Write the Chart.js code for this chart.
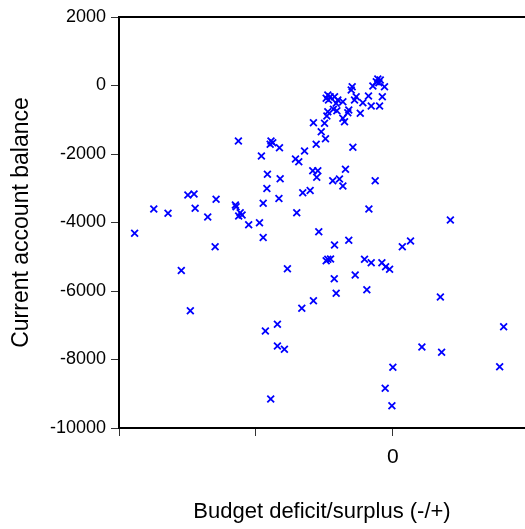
<!DOCTYPE html>
<html>
<head>
<meta charset="utf-8">
<script src="https://cdn.jsdelivr.net/npm/chart.js@4/dist/chart.umd.min.js"></script>
<style>
  html, body { margin: 0; padding: 0; background: #ffffff; overflow: hidden; }
  #wrap { position: relative; width: 525px; height: 529px; }
</style>
</head>
<body>
<div id="wrap"><canvas id="chart" width="525" height="529"></canvas></div>
<script>
// Budget deficit/surplus (x) against current account balance (y)
const budgetBalance = [
  -1886, -1746, -1642, -1545, -1479, -1497, -1452, -1444, -1291, -1352,
  -1298, -1128, -1150, -1145, -1115, -1126, -1101, -1053, -974, -947,
  -947, -960, -890, -877, -896, -828, -916, -823, -920, -832,
  -931, -843, -843, -792, -892, -770, -711, -687, -702, -658,
  -604, -665, -580, -645, -585, -548, -556, -560, -580, -499,
  -523, -492, -541, -426, -475, -455, -487, -428, -414, -439,
  -390, -365, -346, -322, -475, -458, -487, -470, -426, -402,
  -365, -414, -434, -409, -322, -329, -475, -482, -365, -353,
  -238, -297, -304, -268, -280, -219, -178, -158, -97, -77,
  -146, -61, -110, -92, -121, -102, -292, -275, -207, -158,
  -175, -129, -190, -80, -53, -24, 69, 129, 420, 347,
  809, 212, 356, 0, 780, -56, -7
];
const currentAccount = [
  -4315, -3606, -3731, -5401, -6575, -3197, -3168, -3585, -3323, -3839,
  -4707, -1620, -3489, -3539, -3714, -3810, -3781, -4064, -4006, -3439,
  -4438, -2058, -1620, -1670, -1717, -1816, -2593, -2721, -3007, -3299,
  -7168, -6972, -7606, -7702, -9153, -5349, -2146, -2225, -3714, -3130,
  -3066, -6505, -6283, -1912, -2488, -2488, -2680, -1717, -1086, -1104,
  -1349, -1553, -4269, -4657, -5074, -5066, -5115, -5641, -6067, -2780,
  -2730, -2934, -2447, -4520, -277, -327, -374, -423, -327, -423,
  -473, -520, -695, -736, -715, -794, -765, -891, -958, -1057,
  -812, -35, -131, -327, -423, -502, -307, -599, -599, -327,
  -15, -35, 190, 161, 111, 82, -1804, -5533, -5074, -5174,
  -3606, -2780, -5962, -5174, -5291, -5366, -4707, -4540, -3927, -6175,
  -7042, -7635, -7790, -8228, -8210, -8841, -9349
];

// Axis settings
const xRange = [-2000, 965];
const xTickValues = [-2000, -1000, 0];
const xTickLabels = ['', '', '0'];
const yRange = [-10000, 2000];
const yStep = 2000;

const points = budgetBalance.map((x, i) => ({ x: x, y: currentAccount[i] }));
const FONT = '"Liberation Sans", Arial, Helvetica, sans-serif';

new Chart(document.getElementById('chart'), {
  type: 'scatter',
  data: {
    datasets: [{
      data: points,
      pointStyle: 'crossRot',
      pointRadius: 4.8,
      pointHoverRadius: 4.8,
      pointBorderWidth: 1.8,
      borderColor: '#0000ff',
      backgroundColor: '#0000ff'
    }]
  },
  options: {
    responsive: false,
    animation: false,
    devicePixelRatio: 1,
    layout: { autoPadding: false, padding: { top: 17, right: 0, bottom: 0, left: 0 } },
    plugins: { legend: { display: false }, tooltip: { enabled: false } },
    scales: {
      x: {
        type: 'linear',
        position: 'bottom',
        min: xRange[0],
        max: xRange[1],
        afterBuildTicks: (scale) => { scale.ticks = xTickValues.map(v => ({ value: v })); },
        afterFit: (scale) => {
          scale.height = 101;
          // the only labelled tick sits inside the axis, so no edge room is needed
          scale.paddingLeft = 0;
          scale.paddingRight = 0;
        },
        grid: { drawOnChartArea: false, drawTicks: true, tickLength: 8, color: '#333333', lineWidth: 1 },
        border: { display: true, color: '#000000', width: 2 },
        ticks: {
          autoSkip: false,
          maxRotation: 0,
          padding: 9,
          color: '#000000',
          font: { family: FONT, size: 21 },
          callback: (value) => {
            const i = xTickValues.indexOf(value);
            return i >= 0 ? xTickLabels[i] : '';
          }
        },
        title: {
          display: true,
          text: 'Budget deficit/surplus (-/+)',
          color: '#000000',
          font: { family: FONT, size: 22, lineHeight: 1 },
          padding: { top: 0, bottom: 6 }
        }
      },
      xTop: {
        type: 'linear',
        position: 'top',
        min: xRange[0],
        max: xRange[1],
        afterFit: (scale) => {
          scale.height = 0;
          scale.paddingLeft = 0;
          scale.paddingRight = 0;
        },
        grid: { display: false, drawTicks: false },
        border: { display: true, color: '#000000', width: 2 },
        ticks: { display: false }
      },
      y: {
        type: 'linear',
        position: 'left',
        min: yRange[0],
        max: yRange[1],
        afterFit: (scale) => { scale.width = 119; },
        grid: { drawOnChartArea: false, drawTicks: true, tickLength: 8, color: '#333333', lineWidth: 1 },
        border: { display: true, color: '#000000', width: 2 },
        ticks: {
          stepSize: yStep,
          padding: 5,
          color: '#000000',
          font: { family: FONT, size: 18 },
          callback: (value) => String(value)
        },
        title: {
          display: true,
          text: 'Current account balance',
          color: '#000000',
          font: { family: FONT, size: 23, lineHeight: 1 },
          padding: { top: 10.5, bottom: 0 }
        }
      }
    }
  }
});
</script>
</body>
</html>
